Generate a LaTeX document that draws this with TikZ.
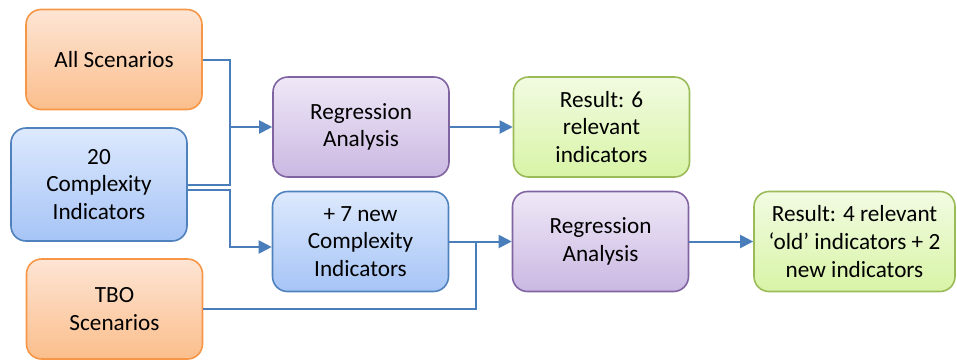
\documentclass[tikz,border=0pt]{standalone}
\usepackage{fontspec}
\setmainfont{Carlito}
\usetikzlibrary{arrows.meta}

\begin{document}
\begin{tikzpicture}[x=0.5pt, y=-0.5pt,
    box/.style={rounded corners=7.5pt, line width=0.8pt, align=center, inner sep=2pt,
        minimum width=88pt, minimum height=50pt, font=\fontsize{11.6}{13.8}\selectfont},
    scenbox/.style={box, draw=scenedge, top color=scentop, bottom color=scenbot},
    indbox/.style={box, draw=indedge, top color=indtop, bottom color=indbot},
    regbox/.style={box, draw=regedge, top color=regtop, bottom color=regbot},
    resbox/.style={box, draw=resedge, top color=restop, bottom color=resbot},
    flow/.style={draw=flowcolor, line width=1pt},
    flowarrow/.style={flow, -{Triangle[length=6.5pt, width=6.5pt]}}]
    % Define colors
    \definecolor{scenedge}{RGB}{247, 150, 70}
    \definecolor{scentop}{RGB}{253, 229, 212}
    \definecolor{scenbot}{RGB}{251, 190, 140}
    \definecolor{indedge}{RGB}{79, 129, 189}
    \definecolor{indtop}{RGB}{221, 233, 253}
    \definecolor{indbot}{RGB}{166, 196, 246}
    \definecolor{regedge}{RGB}{128, 100, 162}
    \definecolor{regtop}{RGB}{239, 232, 247}
    \definecolor{regbot}{RGB}{202, 184, 226}
    \definecolor{resedge}{RGB}{155, 187, 89}
    \definecolor{restop}{RGB}{242, 251, 226}
    \definecolor{resbot}{RGB}{216, 244, 166}
    \definecolor{flowcolor}{RGB}{74, 126, 187}

    % Page size
    \useasboundingbox (0,0) rectangle (957,360);

    % Inputs (left column)
    \node[scenbox] (allsc) at (114,59.5) {All Scenarios};
    \node[indbox, minimum height=56.5pt] (cind) at (99,184.5) {20\\Complexity\\Indicators};
    \node[scenbox] (tbo) at (114.5,309) {TBO\\Scenarios};

    % First analysis
    \node[regbox] (reg1) at (361,127) {Regression\\Analysis};
    \node[resbox] (res1) at (601.5,127) {Result: 6\\relevant\\indicators};

    % Second analysis
    \node[indbox] (new7) at (360.5,241.5) {+ 7 new\\Complexity\\Indicators};
    \node[regbox] (reg2) at (600.5,241.5) {Regression\\Analysis};
    \node[resbox, minimum width=100.5pt] (res2) at (854.5,241.5) {Result: 4 relevant\\`old' indicators + 2\\new indicators};

    % Junction points
    \coordinate (join1) at (230,127);
    \coordinate (join2) at (230,247);
    \coordinate (join3) at (476,241.5);

    % Connectors
    \draw[flow] (allsc.east) -| (join1);
    \draw[flow] (cind.east) -| (join1);
    \draw[flowarrow] (join1) -- (reg1.west);
    \draw[flowarrow] ([yshift=-2.75pt]cind.east) -| (join2) -- (new7.west |- join2);
    \draw[flow] (tbo.east) -| (join3);
    \draw[flowarrow] (new7.east) -- (reg2.west);
    \draw[flowarrow] (reg1.east) -- (res1.west);
    \draw[flowarrow] (reg2.east) -- (res2.west);
\end{tikzpicture}
\end{document}
